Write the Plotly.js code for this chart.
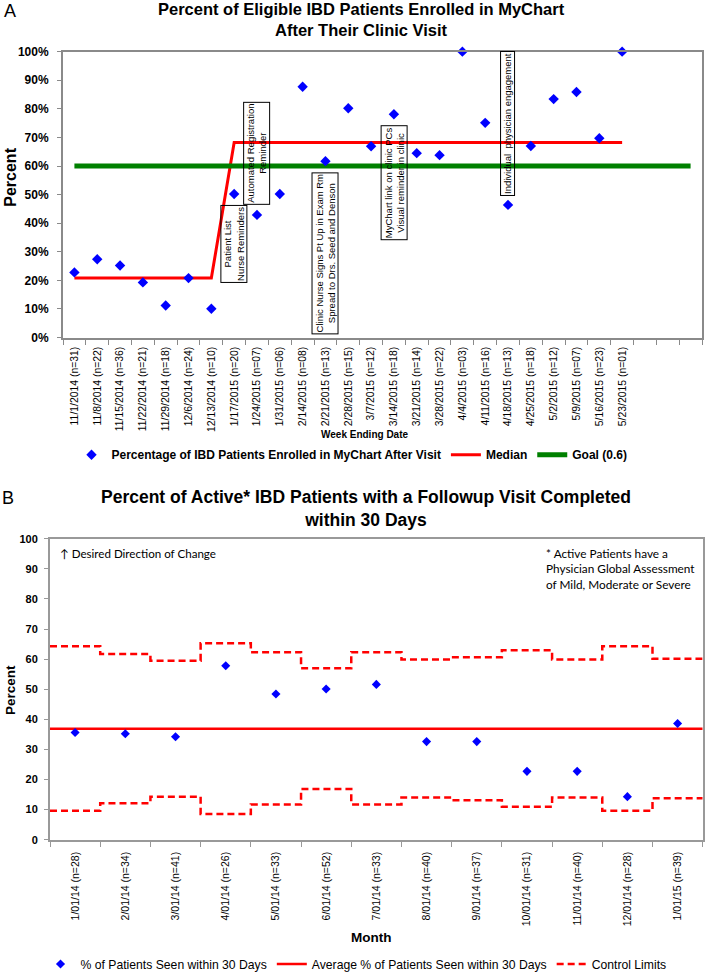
<!DOCTYPE html>
<html>
<head>
<meta charset="utf-8">
<script src="https://cdn.plot.ly/plotly-3.0.1.min.js"></script>
<style>
  html, body { margin: 0; padding: 0; background: #fff; }
  #chart { width: 705px; height: 979px; }
</style>
</head>
<body>
<div id="chart"></div>
<script>
// Panel A: weekly MyChart enrollment after the clinic visit
const weekDates = ['11/1/2014', '11/8/2014', '11/15/2014', '11/22/2014', '11/29/2014', '12/6/2014',
  '12/13/2014', '1/17/2015', '1/24/2015', '1/31/2015', '2/14/2015', '2/21/2015', '2/28/2015',
  '3/7/2015', '3/14/2015', '3/21/2015', '3/28/2015', '4/4/2015', '4/11/2015', '4/18/2015',
  '4/25/2015', '5/2/2015', '5/9/2015', '5/16/2015', '5/23/2015'];
const weekCounts = ['31', '22', '36', '21', '18', '24', '10', '20', '07', '06', '08', '13', '15',
  '12', '18', '14', '22', '03', '16', '13', '18', '12', '07', '23', '01'];
const enrolledPct = [22.8, 27.4, 25.2, 19.3, 11.2, 20.8, 10.1, 50.2, 42.9, 50.2, 87.7, 61.7, 80.2,
  66.9, 78.1, 64.5, 63.8, 100, 75.1, 46.4, 67.0, 83.4, 85.9, 69.7, 100];
const medianPct = [20.8, 20.8, 20.8, 20.8, 20.8, 20.8, 20.8, 68.2, 68.2, 68.2, 68.2, 68.2, 68.2,
  68.2, 68.2, 68.2, 68.2, 68.2, 68.2, 68.2, 68.2, 68.2, 68.2, 68.2, 68.2];
const goalPct = 60;
const emptyWeeks = 3;   // blank slots Excel left at the end of the axis

// interventions written on the chart: week index, level, text
const noteWeeks = [7, 8, 11, 14, 19];
const noteLevels = [32.8, 64.6, 29.6, 54.3, 74.7];
const noteTexts = [
  'Patient List<br>Nurse Reminders',
  'Automated Registration<br>Reminder',
  'Clinic Nurse Signs Pt Up in Exam Rm<br>Spread to Drs. Seed and Denson',
  'MyChart link on clinic PCs<br>Visual reminder in clinic',
  'Individual  physician engagement'
];

// Panel B: follow-up visit within 30 days, control chart
const months = ['1/01/14', '2/01/14', '3/01/14', '4/01/14', '5/01/14', '6/01/14', '7/01/14',
  '8/01/14', '9/01/14', '10/01/14', '11/01/14', '12/01/14', '1/01/15'];
const monthCounts = [28, 34, 41, 26, 33, 52, 33, 40, 37, 31, 40, 28, 39];
const seenPct = [35.6, 35.2, 34.2, 57.8, 48.4, 50.1, 51.6, 32.6, 32.6, 22.7, 22.7, 14.3, 38.6];
const averagePct = 36.9;
const upperLimit = [64.3, 61.7, 59.5, 65.3, 62.3, 57.0, 62.3, 59.9, 60.6, 63.0, 59.9, 64.3, 60.1];
const lowerLimit = [9.6, 12.1, 14.3, 8.5, 11.7, 16.8, 11.7, 14.0, 13.1, 10.9, 14.0, 9.6, 13.8];

const W = 705, H = 979;
const fx = p => p / W;
const fy = p => 1 - p / H;
const FONT = '"Liberation Sans", Arial, sans-serif';
const NOTE_FONT = 'Lato, "Open Sans", sans-serif';

const weekIdx = weekDates.map((_, i) => i);
const weekSlots = weekDates.length + emptyWeeks;
const weekLabels = weekDates.map((d, i) => `${d} (n=${weekCounts[i]})`);
const weekEdges = Array.from({length: weekSlots + 1}, (_, i) => i - 0.5);

const monthIdx = months.map((_, i) => i);
const monthLabels = months.map((m, i) => `${m} (n=${monthCounts[i]})`);
const monthEdges = Array.from({length: months.length + 1}, (_, i) => i - 0.5);

const data = [
  {
    x: weekIdx, y: medianPct, mode: 'lines', name: 'Median',
    line: {color: '#ff0000', width: 3}, legend: 'legend', legendrank: 2,
    xaxis: 'x', yaxis: 'y'
  },
  {
    x: [0, weekSlots - 1], y: [goalPct, goalPct], mode: 'lines', name: 'Goal (0.6)',
    line: {color: '#008000', width: 5}, legend: 'legend', legendrank: 3,
    xaxis: 'x', yaxis: 'y'
  },
  {
    x: weekIdx, y: enrolledPct, mode: 'markers',
    name: 'Percentage of IBD Patients Enrolled in MyChart After Visit',
    marker: {symbol: 'diamond', size: 8, color: '#0000ff'}, cliponaxis: false,
    legend: 'legend', legendrank: 1, xaxis: 'x', yaxis: 'y'
  },
  {
    x: [-0.5, months.length - 0.5], y: [averagePct, averagePct], mode: 'lines',
    name: 'Average % of Patients Seen within 30 Days',
    line: {color: '#ff0000', width: 2.5}, legend: 'legend2', legendrank: 2,
    xaxis: 'x2', yaxis: 'y2'
  },
  {
    x: monthEdges, y: upperLimit.concat(upperLimit[upperLimit.length - 1]), mode: 'lines',
    name: 'Control Limits', legendgroup: 'cl',
    line: {color: '#ff0000', width: 2.5, dash: '7px,4px', shape: 'hv'},
    legend: 'legend2', legendrank: 3, xaxis: 'x2', yaxis: 'y2'
  },
  {
    x: monthEdges, y: lowerLimit.concat(lowerLimit[lowerLimit.length - 1]), mode: 'lines',
    name: 'Control Limits', legendgroup: 'cl', showlegend: false,
    line: {color: '#ff0000', width: 2.5, dash: '7px,4px', shape: 'hv'},
    legend: 'legend2', xaxis: 'x2', yaxis: 'y2'
  },
  {
    x: monthIdx, y: seenPct, mode: 'markers', name: '% of Patients Seen within 30 Days',
    marker: {symbol: 'diamond', size: 7, color: '#0000ff'}, cliponaxis: false,
    legend: 'legend2', legendrank: 1, xaxis: 'x2', yaxis: 'y2'
  }
];

const annotations = [
  {text: 'A', x: fx(10), y: fy(11), font: {size: 18}},
  {text: 'Percent of Eligible IBD Patients Enrolled in MyChart<br>After Their Clinic Visit',
   x: fx(361), y: fy(20), font: {size: 16.5, weight: 'bold'}},
  {text: 'Percent', x: fx(11), y: fy(179), textangle: -90, font: {size: 16, weight: 'bold'}},
  {text: 'Week Ending Date', x: fx(364), y: fy(438), font: {size: 10, weight: 'bold'}},
  {text: 'B', x: fx(8), y: fy(502), font: {size: 18}},
  {text: 'Percent of Active* IBD Patients with a Followup Visit Completed<br>within 30 Days',
   x: fx(366), y: fy(512), font: {size: 17.5, weight: 'bold'}},
  {text: '\u2191 Desired Direction of Change', x: fx(58), y: fy(557), xanchor: 'left',
   font: {family: NOTE_FONT, size: 11.6}},
  {text: '* Active Patients have a<br>Physician Global Assessment<br>of Mild, Moderate or Severe',
   x: fx(544), y: fy(573), xanchor: 'left', align: 'left', font: {family: NOTE_FONT, size: 11.8}},
  {text: 'Percent', x: fx(10), y: fy(695), textangle: -90, font: {size: 13.5, weight: 'bold'}},
  {text: 'Month', x: fx(371), y: fy(944), font: {size: 13.5, weight: 'bold'}}
].map(a => Object.assign({xref: 'paper', yref: 'paper', showarrow: false,
  xanchor: 'center', yanchor: 'middle'}, a, {font: Object.assign({family: FONT, color: '#000'}, a.font)}));

noteTexts.forEach((t, i) => {
  annotations.push({
    text: t, x: noteWeeks[i], y: noteLevels[i], xref: 'x', yref: 'y',
    showarrow: false, textangle: -90, bordercolor: '#000', borderwidth: 1, borderpad: 1,
    font: {family: FONT, size: 9.5, color: '#000'}
  });
});

const frameA = '#8a8a8a';
const frameB = '#999999';

const layout = {
  width: W, height: H,
  margin: {l: 0, r: 0, t: 0, b: 0},
  paper_bgcolor: '#fff', plot_bgcolor: '#fff',
  font: {family: FONT, color: '#000'},
  xaxis: {
    domain: [fx(63), fx(702)], anchor: 'y', range: [-0.5, weekSlots - 0.5],
    tickmode: 'array', tickvals: weekIdx, ticktext: weekLabels, tickangle: -90,
    ticks: '', ticklabelstandoff: 3, tickfont: {size: 10.4, color: '#000'},
    showline: true, mirror: true, linecolor: frameA, linewidth: 2,
    showgrid: false, zeroline: false,
    minor: {tickmode: 'array', tickvals: weekEdges, ticks: 'outside', ticklen: 5,
            tickcolor: frameA, showgrid: false}
  },
  yaxis: {
    domain: [fy(340), fy(52)], anchor: 'x', range: [0, 100], dtick: 10, ticksuffix: '%',
    ticks: 'outside', ticklen: 4, tickcolor: frameA, ticklabelstandoff: 6,
    tickfont: {size: 12, weight: 'bold', color: '#000'},
    showline: true, mirror: true, linecolor: frameA, linewidth: 2,
    showgrid: false, zeroline: false
  },
  xaxis2: {
    domain: [fx(50), fx(702.7)], anchor: 'y2', range: [-0.5, months.length - 0.5],
    tickmode: 'array', tickvals: monthIdx, ticktext: monthLabels, tickangle: -90,
    ticks: '', ticklabelstandoff: 6, tickfont: {size: 10.5, color: '#000'},
    showline: true, mirror: true, linecolor: frameB, linewidth: 2,
    showgrid: false, zeroline: false,
    minor: {tickmode: 'array', tickvals: monthEdges, ticks: 'outside', ticklen: 5,
            tickcolor: frameB, showgrid: false}
  },
  yaxis2: {
    domain: [fy(845.7), fy(542.7)], anchor: 'x2', range: [0, 100], dtick: 10,
    ticks: 'outside', ticklen: 4, tickcolor: frameB, ticklabelstandoff: 4,
    tickfont: {size: 11, weight: 'bold', color: '#000'},
    showline: true, mirror: true, linecolor: frameB, linewidth: 2,
    showgrid: false, zeroline: false
  },
  legend: {
    orientation: 'h', x: fx(352), xanchor: 'center', y: fy(458), yanchor: 'middle',
    font: {family: FONT, size: 12, weight: 'bold', color: '#000'},
    bgcolor: 'rgba(0,0,0,0)', traceorder: 'normal'
  },
  legend2: {
    orientation: 'h', x: fx(356), xanchor: 'center', y: fy(971), yanchor: 'middle',
    font: {family: FONT, size: 12.2, color: '#000'},
    bgcolor: 'rgba(0,0,0,0)', traceorder: 'normal'
  },
  annotations: annotations
};

Plotly.newPlot('chart', data, layout, {displayModeBar: false, responsive: false});
</script>
</body>
</html>
